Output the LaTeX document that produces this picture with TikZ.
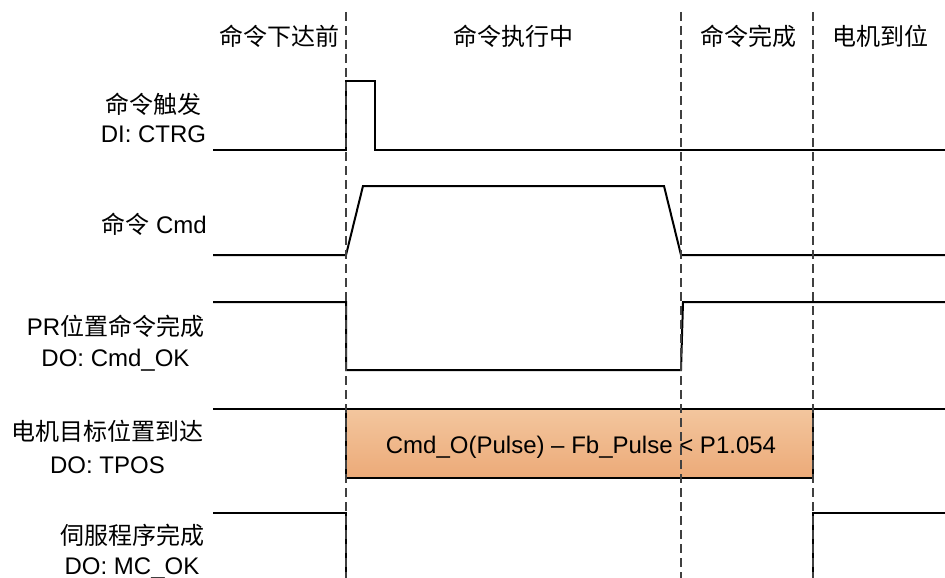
\documentclass[tikz,border=0pt]{standalone}
\usepackage{fontspec}
\setmainfont{Liberation Sans}
\newfontfamily\cjkf{Noto Sans CJK SC}
\newcommand\zh[1]{{\cjkf #1}}
\definecolor{boxtop}{RGB}{243,198,158}
\definecolor{boxbot}{RGB}{236,170,120}
\begin{document}
\begin{tikzpicture}[x=1pt,y=-1pt,
  wave/.style={line width=2pt, line join=miter},
  guide/.style={draw=black!75, line width=1.3pt, dash pattern=on 9pt off 5pt},
  lbl/.style={anchor=base, inner sep=0pt, font=\fontsize{24}{28}\selectfont},
  phase/.style={anchor=base, inner sep=0pt, font=\fontsize{24}{28}\selectfont}]
\useasboundingbox (0,0) rectangle (945,578);

% phase titles
\node[phase] (p1) at (279,46) {\zh{命令下达前}};
\node[phase] (p2) at (513,46) {\zh{命令执行中}};
\node[phase] (p3) at (748,46) {\zh{命令完成}};
\node[phase] (p4) at (880,46) {\zh{电机到位}};

% signal labels
\node[lbl] (l1a) at (153.5,113) {\zh{命令触发}};
\node[lbl] (l1b) at (153.5,142) {DI: CTRG};
\node[lbl, anchor=base east] (l2)  at (207,233) {\zh{命令} Cmd};
\node[lbl] (l3a) at (115.5,335) {PR\zh{位置命令完成}};
\node[lbl] (l3b) at (115.5,366) {DO: Cmd\_OK};
\node[lbl] (l4a) at (107.5,440) {\zh{电机目标位置到达}};
\node[lbl] (l4b) at (107.5,473) {DO: TPOS};
\node[lbl] (l5a) at (132,544) {\zh{伺服程序完成}};
\node[lbl] (l5b) at (132,574) {DO: MC\_OK};

% CTRG
\draw[wave] (213,150) -- (346,150) -- (346,81) -- (375,81) -- (375,150) -- (945,150);
% Cmd
\draw[wave] (213,255) -- (346,255) -- (363,186) -- (664,186) -- (681,255) -- (945,255);
% Cmd_OK
\draw[wave] (213,302) -- (346,302) -- (346,370) -- (681,370) -- (683,302) -- (945,302);
% TPOS
\draw[wave] (213,409) -- (346,409);
\draw[wave] (813,409) -- (945,409);
\shade[top color=boxtop, bottom color=boxbot] (346,409) rectangle (813,478);
\draw[line width=1.6pt] (346,409) rectangle (813,478);
\node[anchor=base, inner sep=0pt, font=\fontsize{24}{28}\selectfont] (cond) at (581,453) {Cmd\_O(Pulse) -- Fb\_Pulse {\textless} P1.054};
% MC_OK
\draw[wave] (213,513) -- (346,513) -- (346,580);
\draw[wave] (813,580) -- (813,513) -- (945,513);

% guides
\coordinate (g1t) at (346,12); \coordinate (g1b) at (346,578);
\coordinate (g2t) at (681,12); \coordinate (g2b) at (681,578);
\coordinate (g3t) at (813,12); \coordinate (g3b) at (813,578);
\draw[guide] (g1t) -- (g1b);
\draw[guide] (g2t) -- (g2b);
\draw[guide] (g3t) -- (g3b);
\end{tikzpicture}
\end{document}
